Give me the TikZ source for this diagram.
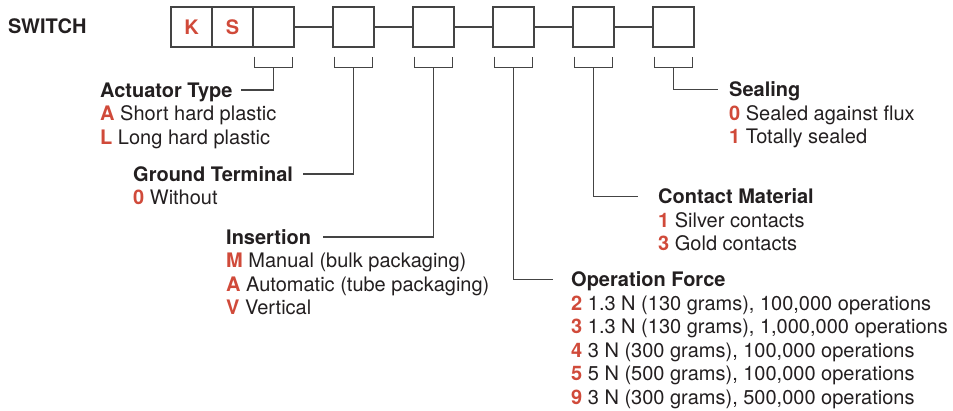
\documentclass[tikz,border=0pt]{standalone}
\usepackage{fontspec}
\setmainfont{TeX Gyre Heros}
\usetikzlibrary{calc}
\definecolor{keyred}{RGB}{208,74,58}
\definecolor{txt}{RGB}{35,31,32}
\definecolor{ln}{RGB}{68,68,68}
\newcommand{\ky}[1]{\textcolor{keyred}{\textbf{#1}}}
\begin{document}
\begin{tikzpicture}[x=1pt,y=-1pt,
  every node/.style={inner sep=0pt, text=txt, font=\fontsize{20}{24}\selectfont},
  digit/.style={draw=ln, line width=1.4pt, minimum width=41pt, minimum height=40pt,
    font=\fontsize{20}{24}\selectfont\bfseries, text=keyred},
  lbl/.style={anchor=base west},
  head/.style={anchor=base west, font=\fontsize{20}{24}\selectfont\bfseries},
  wire/.style={draw=ln, line width=1.2pt}]
\useasboundingbox (0,0) rectangle (953,410);

% title
\node[head] (sw) at (8,33.5) {SWITCH};

% code boxes
\node[digit] (b1) at (191.5,27) {K};
\node[digit] (b2) at (232.5,27) {S};
\node[digit] (b3) at (273.5,27) {};
\node[digit] (b4) at (353.5,27) {};
\node[digit] (b5) at (433.5,27) {};
\node[digit] (b6) at (513.5,27) {};
\node[digit] (b7) at (593.5,27) {};
\node[digit] (b8) at (673.5,27) {};

\draw[wire] (b3.east) -- (b4.west);
\draw[wire] (b4.east) -- (b5.west);
\draw[wire] (b5.east) -- (b6.west);
\draw[wire] (b6.east) -- (b7.west);
\draw[wire] (b7.east) -- (b8.west);

% brackets
\foreach \b in {b3,b4,b5,b6,b7,b8}{
  \draw[wire] ($(\b.south west)+(2,9)$) -- ($(\b.south west)+(2,20)$)
     -- ($(\b.south east)+(-2,20)$) -- ($(\b.south east)+(-2,9)$);
}

% Actuator Type
\node[head] (at0) at (100,97) {Actuator Type};
\node[lbl] (at1) at (100,120.5) {\ky{A} Short hard plastic};
\node[lbl] (at2) at (100,144) {\ky{L} Long hard plastic};

% Ground Terminal
\node[head] (gt0) at (133,181) {Ground Terminal};
\node[lbl] (gt1) at (133,204.5) {\ky{0} Without};

% Insertion
\node[head] (in0) at (226,244) {Insertion};
\node[lbl] (in1) at (226,267.5) {\ky{M} Manual (bulk packaging)};
\node[lbl] (in2) at (226,291) {\ky{A} Automatic (tube packaging)};
\node[lbl] (in3) at (226,314.5) {\ky{V} Vertical};

% Operation Force
\node[head] (of0) at (571,286.5) {Operation Force};
\node[lbl] (of1) at (571,310) {\ky{2} 1.3 N (130 grams), 100,000 operations};
\node[lbl] (of2) at (571,333.5) {\ky{3} 1.3 N (130 grams), 1,000,000 operations};
\node[lbl] (of3) at (571,357) {\ky{4} 3 N (300 grams), 100,000 operations};
\node[lbl] (of4) at (571,380.5) {\ky{5} 5 N (500 grams), 100,000 operations};
\node[lbl] (of5) at (571,404) {\ky{9} 3 N (300 grams), 500,000 operations};

% Contact Material
\node[head] (cm0) at (658,203.5) {Contact Material};
\node[lbl] (cm1) at (658,227) {\ky{1} Silver contacts};
\node[lbl] (cm2) at (658,250.5) {\ky{3} Gold contacts};

% Sealing
\node[head] (se0) at (729,96.5) {Sealing};
\node[lbl] (se1) at (729,120) {\ky{0} Sealed against flux};
\node[lbl] (se2) at (729,143.5) {\ky{1} Totally sealed};

% leaders
\draw[wire] ($(b3.south)+(0,20)$) |- ($(at0.base east)+(8,-7)$);
\draw[wire] ($(b4.south)+(0,20)$) |- ($(gt0.base east)+(10,-7)$);
\draw[wire] ($(b5.south)+(0,20)$) |- ($(in0.base east)+(12,-7)$);
\draw[wire] ($(b6.south)+(0,20)$) |- ($(of0.base west)+(-18,-7)$);
\draw[wire] ($(b7.south)+(0,20)$) |- ($(cm0.base west)+(-20,-7)$);
\draw[wire] ($(b8.south)+(0,20)$) |- ($(se0.base west)+(-11,-7)$);
\end{tikzpicture}
\end{document}
